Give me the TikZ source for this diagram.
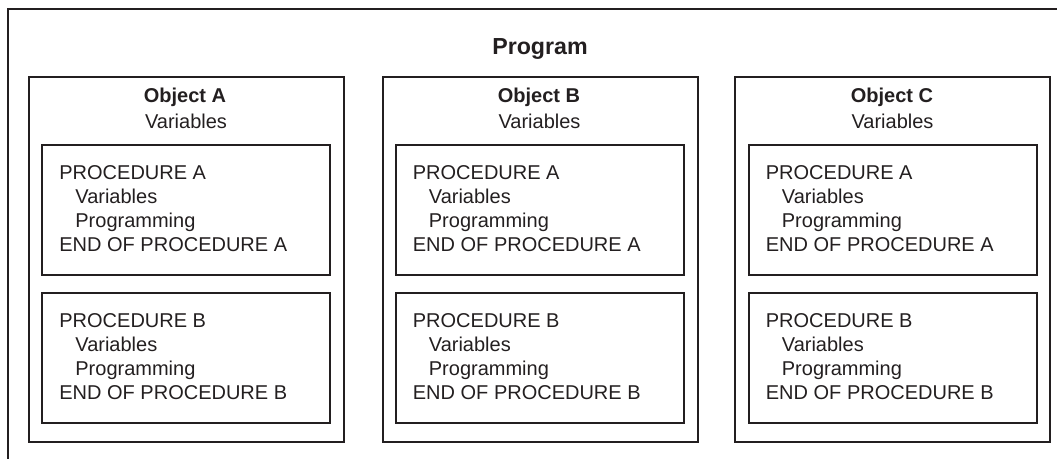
\documentclass[tikz,border=0pt]{standalone}
\usepackage{fontspec}
\setmainfont{Liberation Sans}
\usetikzlibrary{positioning}
\definecolor{ink}{RGB}{35,31,32}

\begin{document}
\begin{tikzpicture}[x=0.5pt,y=-0.5pt,font=\fontsize{10}{12}\selectfont,text=ink]
        \useasboundingbox (0,0) rectangle (1057,459);
        \draw [draw=ink,line width=1pt] (1057,9) -| (8,459);
        \node (prog) [anchor=base,inner sep=0pt,font=\fontsize{11.6}{14}\selectfont\bfseries] at (540,55) {Program};
        \begin{scope}[every node/.style={rectangle,draw=ink,line width=1pt,inner sep=0pt,minimum width=157.5pt,minimum height=182.5pt}]
            \node (objA) at (186.5,259.5) {};
            \node (objB) at (540,259.5) {};
            \node (objC) at (892.5,259.5) {};
        \end{scope}
        \begin{scope}[every node/.style={rectangle,draw=ink,line width=1pt,inner sep=0pt,minimum width=144pt,minimum height=65pt}]
            \node (procAa) at (186,210) {};
            \node (procAb) at (186,358) {};
            \node (procBa) at (539.5,210) {};
            \node (procBb) at (539.5,358) {};
            \node (procCa) at (892.5,210) {};
            \node (procCb) at (892.5,358) {};
        \end{scope}
        \begin{scope}[every node/.style={anchor=base,inner sep=0pt}]
            \node (titleA) [font=\fontsize{10}{12}\selectfont\bfseries] at (185,103) {Object A};
            \node (varsA) at (186,129) {Variables};
            \node (titleB) [font=\fontsize{10}{12}\selectfont\bfseries] at (539,103) {Object B};
            \node (varsB) at (539.5,129) {Variables};
            \node (titleC) [font=\fontsize{10}{12}\selectfont\bfseries] at (892,103) {Object C};
            \node (varsC) at (892.5,129) {Variables};
        \end{scope}
        \begin{scope}[every node/.style={align=left,inner sep=0pt}]
            \node (textAa) [below right=10.5pt and 9pt of procAa.north west] {PROCEDURE A\\\hspace*{8pt}Variables\\\hspace*{8pt}Programming\\END OF PROCEDURE A};
            \node (textAb) [below right=10.5pt and 9pt of procAb.north west] {PROCEDURE B\\\hspace*{8pt}Variables\\\hspace*{8pt}Programming\\END OF PROCEDURE B};
            \node (textBa) [below right=10.5pt and 9pt of procBa.north west] {PROCEDURE A\\\hspace*{8pt}Variables\\\hspace*{8pt}Programming\\END OF PROCEDURE A};
            \node (textBb) [below right=10.5pt and 9pt of procBb.north west] {PROCEDURE B\\\hspace*{8pt}Variables\\\hspace*{8pt}Programming\\END OF PROCEDURE B};
            \node (textCa) [below right=10.5pt and 9pt of procCa.north west] {PROCEDURE A\\\hspace*{8pt}Variables\\\hspace*{8pt}Programming\\END OF PROCEDURE A};
            \node (textCb) [below right=10.5pt and 9pt of procCb.north west] {PROCEDURE B\\\hspace*{8pt}Variables\\\hspace*{8pt}Programming\\END OF PROCEDURE B};
        \end{scope}
    \end{tikzpicture}
\end{document}
